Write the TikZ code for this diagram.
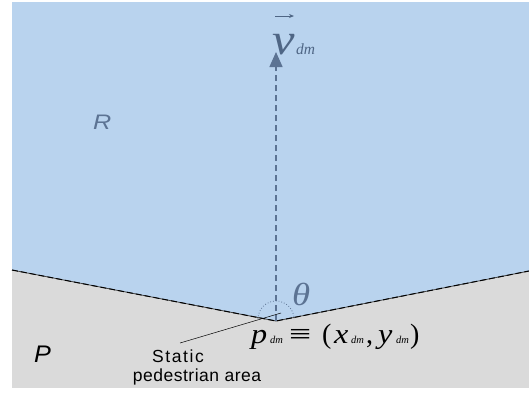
\documentclass[tikz,border=0pt]{standalone}
\usepackage{graphicx}
\usepackage{fontspec}
\setmainfont{Liberation Serif}
\setsansfont{Liberation Sans}
\usetikzlibrary{arrows.meta}
\definecolor{skyfill}{HTML}{B9D3EE}
\definecolor{greyfill}{HTML}{DADADA}
\definecolor{slate}{HTML}{4F6685}
\definecolor{slatelight}{HTML}{5C7393}
\newcommand{\wideit}[1]{\scalebox{1.15}[1]{\itshape #1}}
\tikzset{
  boundary/.style={draw=black!75, line width=0.8pt},
  boundarydash/.style={draw=black, line width=1pt, dash pattern=on 6pt off 3pt},
  sanslabel/.style={font=\sffamily\fontsize{17.5}{20}\selectfont, inner sep=0pt},
  bigm/.style={inner sep=0pt, anchor=base west, font=\fontsize{28}{28}\selectfont},
  subm/.style={inner sep=0pt, anchor=base west, font=\fontsize{10.5}{10.5}\selectfont\itshape},
}
\begin{document}
\begin{tikzpicture}[x=1pt,y=-1pt]
\useasboundingbox (0,0) rectangle (529,392);
% regions
\fill[greyfill] (12,2) rectangle (529,388);
\fill[skyfill] (12,2) -- (529,2) -- (529,271) -- (276,321) -- (12,270) -- cycle;
\coordinate (L) at (12,270);
\coordinate (V) at (276,321);
\coordinate (Rt) at (529,271);
\draw[boundary] (L) -- (V) -- (Rt);
\draw[boundarydash] (L) -- (V) -- (Rt);
% velocity arrow
\coordinate (tip) at (276,52);
\draw[slatelight, line width=1.5pt, dash pattern=on 6pt off 4pt] (V) -- (276,66);
\draw[slatelight, line width=1.5pt, -{Triangle[length=15pt,width=13pt]}] (276,67) -- (tip);
% v_dm
\node[slate, inner sep=0pt, anchor=base west, font=\fontsize{44}{44}\selectfont] (vlab) at (272,54) {\wideit{v}};
\node[slate, inner sep=0pt, anchor=base west, font=\fontsize{15.5}{15.5}\selectfont\itshape] (vsub) at (296,54) {dm};
\draw[slate, line width=1pt, -{Stealth[length=5pt,width=4pt]}] (275,16) -- (294,16);
% angle arc
\draw[slatelight, line width=0.8pt, dotted] (258,319) arc[start angle=180, end angle=360, radius=18];
\node[slatelight, inner sep=0pt, anchor=base west, font=\fontsize{32}{32}\selectfont] (theta) at (292,305) {\wideit{θ}};
% labels
\node[slatelight, inner sep=0pt, anchor=base west, font=\sffamily\fontsize{21}{21}\selectfont] (R) at (93,129) {\scalebox{1.2}[1]{\itshape R}};
\node[black, inner sep=0pt, anchor=base west, font=\sffamily\fontsize{24}{24}\selectfont] (P) at (34,362) {\scalebox{1.05}[1]{\itshape P}};
\node[sanslabel, anchor=base] (st1) at (178,362) {\addfontfeature{LetterSpace=9}Static};
\node[sanslabel, anchor=base] (st2) at (197,381) {\addfontfeature{LetterSpace=3}pedestrian area};
\coordinate (leadstart) at (180,343);
\coordinate (leadend) at (281,313);
\draw[black, line width=0.5pt] (leadstart) -- (leadend);
% point label
\node[bigm] (p) at (251,343) {\wideit{p}};
\node[subm] (ps) at (270,343) {dm};
\node[bigm] (eq) at (289,343) {\scalebox{1.4}[1]{≡}};
\node[bigm] (lp) at (322,343) {(};
\node[bigm] (x) at (334,343) {\wideit{x}};
\node[subm] (xs) at (351,343) {dm};
\node[bigm] (cm) at (366,343) {,};
\node[bigm] (y) at (378,343) {\wideit{y}};
\node[subm] (ys) at (396,343) {dm};
\node[bigm] (rp) at (410,343) {)};
\end{tikzpicture}
\end{document}
